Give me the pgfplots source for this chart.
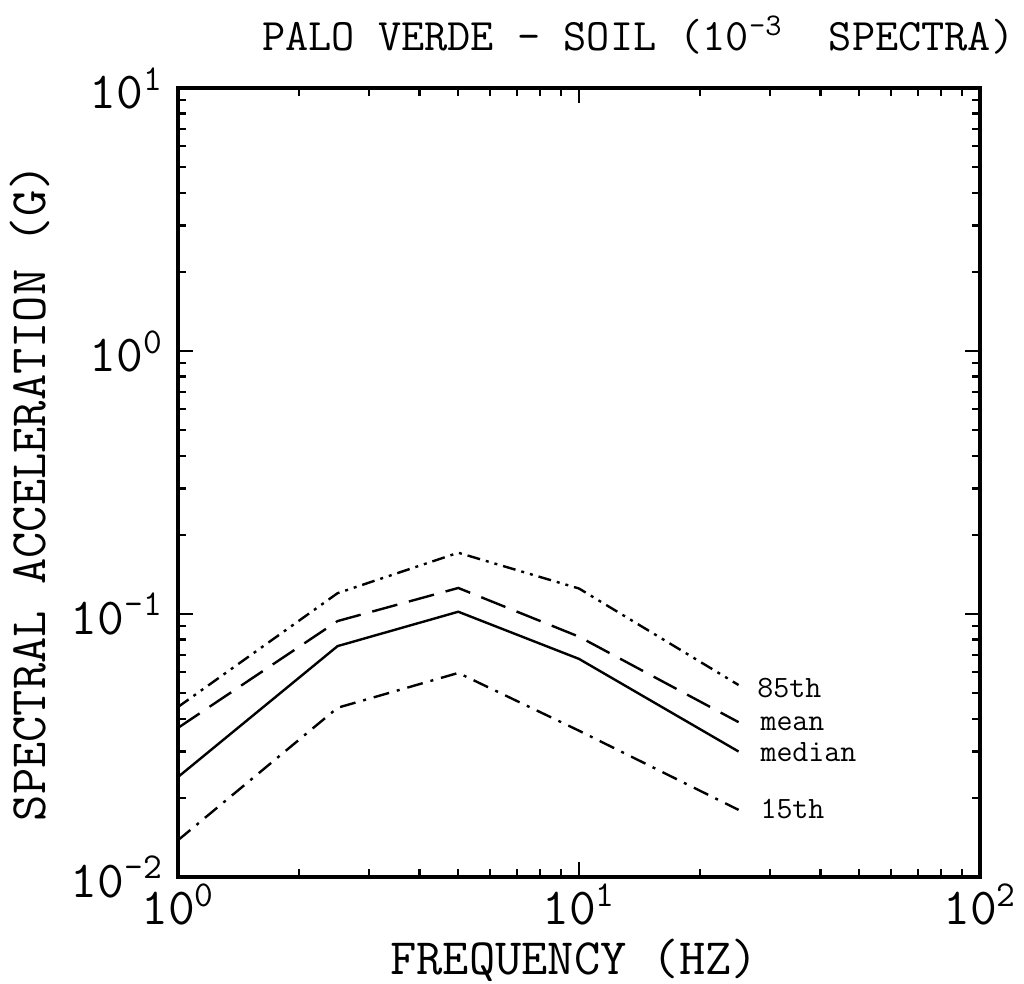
\documentclass[border=0pt]{standalone}
\usepackage{pgfplots}
\pgfplotsset{compat=1.18}
\begin{document}
\begin{tikzpicture}
% page frame matching the reference proportions (axis box from (0,0) to (401pt,394.5pt))
\useasboundingbox (-89pt,-53.5pt) rectangle (423pt,438.5pt);
\begin{axis}[
    at={(0,0)}, anchor=south west,
    scale only axis,
    width=401pt, height=394.5pt,
    xmode=log, ymode=log,
    xmin=1, xmax=100, ymin=0.01, ymax=10,
    axis line style={line width=1.6pt},
    tick style={line width=1.1pt, black},
    major tick length=7.5pt,
    minor tick length=4pt,
    tick align=inside,
    xtick={1,10,100},
    xticklabels={10\textsuperscript{0},10\textsuperscript{1},10\textsuperscript{2}},
    ytick={0.01,0.1,1,10},
    yticklabels={10\textsuperscript{-2},10\textsuperscript{-1},10\textsuperscript{0},10\textsuperscript{1}},
    minor xtick={2,3,4,5,6,7,8,9,20,30,40,50,60,70,80,90},
    minor ytick={0.02,0.03,0.04,0.05,0.06,0.07,0.08,0.09,0.2,0.3,0.4,0.5,0.6,0.7,0.8,0.9,2,3,4,5,6,7,8,9},
    ticklabel style={font=\fontsize{26}{28}\selectfont\ttfamily},
    xticklabel style={inner sep=1pt, yshift=-2pt},
    yticklabel style={xshift=-4pt},
    clip=false,
]
% 85th percentile
\addplot[line width=1.2pt, dash pattern=on 6.5pt off 3pt on 1.5pt off 3pt on 1.5pt off 3pt]
    coordinates {(1,0.0443)(2.5,0.120)(5,0.171)(10,0.125)(25,0.0537)};
% mean
\addplot[line width=1.2pt, dash pattern=on 13pt off 6pt]
    coordinates {(1,0.0369)(2.5,0.094)(5,0.1256)(10,0.082)(25,0.0388)};
% median
\addplot[line width=1.2pt]
    coordinates {(1,0.024)(2.5,0.0755)(5,0.102)(10,0.0675)(25,0.030)};
% 15th percentile
\addplot[line width=1.2pt, dash pattern=on 8pt off 4pt on 1.5pt off 4pt]
    coordinates {(1,0.0138)(2.5,0.044)(5,0.0597)(10,0.036)(25,0.018)};

\node[anchor=base west, inner sep=0pt, font=\fontsize{15.5}{17}\selectfont\ttfamily] at (axis cs:27.8,0.0483) {85th};
\node[anchor=base west, inner sep=0pt, font=\fontsize{15.5}{17}\selectfont\ttfamily] at (axis cs:28.3,0.0362) {mean};
\node[anchor=base west, inner sep=0pt, font=\fontsize{15.5}{17}\selectfont\ttfamily] at (axis cs:28.3,0.0276) {median};
\node[anchor=base west, inner sep=0pt, font=\fontsize{15.5}{17}\selectfont\ttfamily] at (axis cs:28.3,0.01675) {15th};

\node[font=\fontsize{22.5}{26}\selectfont\ttfamily] at (rel axis cs:0.574,1.067)
    {PALO VERDE - SOIL (10\textsuperscript{-3}\ \ SPECTRA)};
\node[inner sep=0pt, font=\fontsize{25.5}{28}\selectfont\ttfamily] at (rel axis cs:0.494,-0.106)
    {FREQUENCY (HZ)};
\node[font=\fontsize{25.5}{28}\selectfont\ttfamily, rotate=90] at (rel axis cs:-0.1845,0.487)
    {SPECTRAL ACCELERATION (G)};
\end{axis}
\end{tikzpicture}
\end{document}
